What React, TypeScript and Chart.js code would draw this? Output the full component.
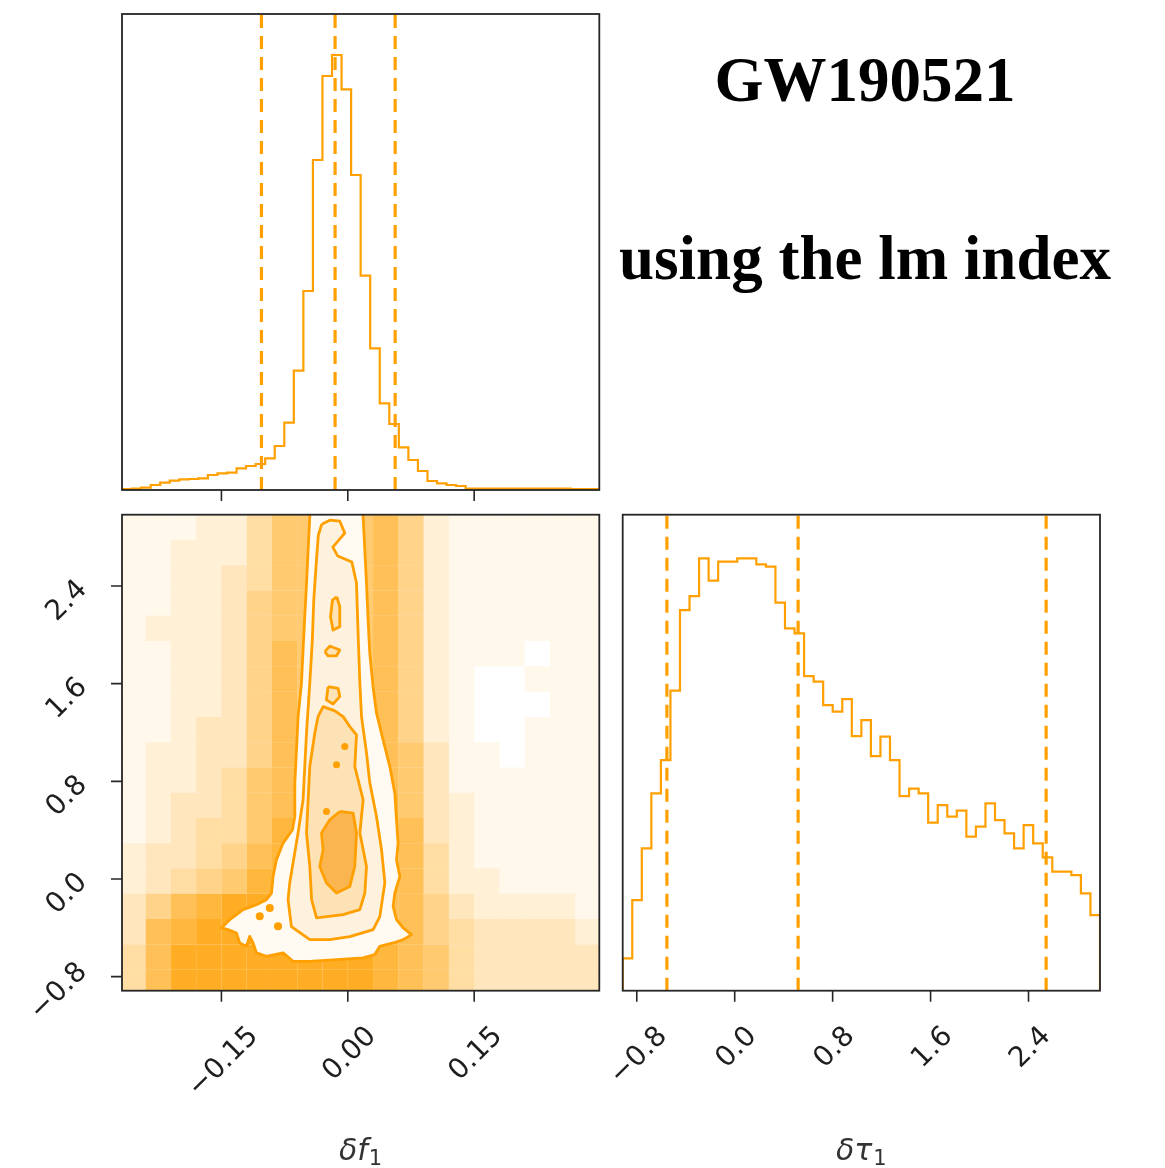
import React, { useEffect, useRef } from 'react';
import { Chart, registerables } from 'chart.js';

Chart.register(...registerables);

// ---------------- data ----------------
const F_RANGE = [-0.268, 0.2985]; // δf1 axis limits
const T_RANGE = [-0.915, 2.984]; // δτ1 axis limits
const F_TICKS = [-0.15, 0, 0.15];
const F_TICK_LABELS = ['−0.15', '0.00', '0.15'];
const T_TICKS = [-0.8, 0, 0.8, 1.6, 2.4];
const T_TICK_LABELS = ['−0.8', '0.0', '0.8', '1.6', '2.4'];

// 50-bin histogram of δf1 (counts, arbitrary units)
const F_HIST = [
  3, 4, 7, 15, 22, 28, 32, 33, 35, 45,
  50, 52, 65, 72, 78, 95, 132, 202, 358, 597,
  990, 1242, 1305, 1202, 945, 643, 425, 260, 198, 128,
  90, 57, 27, 20, 15, 12, 4, 4, 4, 4,
  4, 4, 4, 4, 4, 4, 4, 3, 3, 3,
];
// 50-bin histogram of δτ1
const T_HIST = [
  97, 272, 427, 592, 692, 900, 1142, 1184, 1297, 1230,
  1287, 1287, 1297, 1297, 1279, 1272, 1164, 1087, 1072, 944,
  927, 857, 837, 875, 764, 812, 704, 762, 692, 584,
  606, 592, 504, 557, 522, 540, 462, 492, 562, 512,
  472, 427, 497, 442, 400, 357, 357, 347, 292, 227,
];
const HIST_YMAX = 1428;
const F_QUANTILES = [-0.1025, -0.0151, 0.0562];
const T_QUANTILES = [-0.554, 0.518, 2.544];

// density of the scatter cloud, rows top -> bottom, columns left -> right (0-9)
const DENSITY_X0 = -0.27;
const CELL_DX = 0.03;
const DENSITY_ROWS = [
  '1112246666752111111',
  '1122246666752111111',
  '1122346666752111111',
  '1122356666752111111',
  '1222356666752111111',
  '1122357666752111011',
  '1122357666752100111',
  '1122357666752100011',
  '1123357666752100111',
  '1223357666763110111',
  '1223467666763111111',
  '1233467666863211111',
  '1234468666873211111',
  '2334578666874211111',
  '2345688666874221111',
  '3578999866775322221',
  '3789999977875433332',
  '4799999999876433333',
  '4799999999876433333',
];
const DENSITY_ALPHAS = [0, 0.08, 0.16, 0.26, 0.36, 0.46, 0.56, 0.66, 0.76, 0.86];

// contours (δf1, δτ1), outermost first
const CONTOUR_OUTER = [
  [-0.0451, 3.3],
  [-0.0451, 2.966], [-0.0471, 2.694], [-0.049, 2.421], [-0.0511, 2.148], [-0.0531, 1.876],
  [-0.055, 1.603], [-0.059, 1.33], [-0.0609, 1.058], [-0.0629, 0.785], [-0.0629, 0.512],
  [-0.0657, 0.403], [-0.0768, 0.294], [-0.0847, 0.158], [-0.0887, 0.021], [-0.0906, -0.115],
  [-0.0966, -0.169], [-0.1084, -0.21], [-0.1243, -0.251], [-0.1401, -0.333], [-0.15, -0.401],
  [-0.1422, -0.415], [-0.1322, -0.442], [-0.1283, -0.524], [-0.1203, -0.551], [-0.1164, -0.47],
  [-0.1125, -0.524], [-0.1084, -0.605], [-0.0966, -0.633], [-0.0768, -0.605], [-0.065, -0.674],
  [-0.0451, -0.674], [-0.0134, -0.66], [0.0182, -0.646], [0.0321, -0.619], [0.038, -0.551],
  [0.0538, -0.524], [0.0657, -0.497], [0.0757, -0.456], [0.0657, -0.401], [0.0578, -0.333],
  [0.0538, -0.224], [0.0558, -0.115], [0.0618, 0.021], [0.0578, 0.158], [0.0597, 0.294],
  [0.0578, 0.485], [0.0558, 0.703], [0.0499, 0.921], [0.0419, 1.139], [0.0341, 1.358],
  [0.03, 1.575], [0.0261, 1.849], [0.0241, 2.121], [0.0222, 2.421], [0.0202, 2.694],
  [0.0182, 2.966], [0.0182, 3.3],
];
const CONTOUR_15 = [
  [-0.0309, 2.906], [-0.0214, 2.939], [-0.0095, 2.931], [-0.0036, 2.833], [-0.0178, 2.718],
  [-0.0119, 2.645], [0.0048, 2.596], [0.0103, 2.424], [0.0122, 2.015], [0.0143, 1.606],
  [0.0163, 1.328], [0.0222, 1.033], [0.0261, 0.788], [0.0341, 0.51], [0.04, 0.24],
  [0.044, -0.03], [0.038, -0.308], [0.0301, -0.415], [0.0024, -0.472], [-0.0214, -0.497],
  [-0.0451, -0.497], [-0.0669, -0.39], [-0.0709, -0.169], [-0.0689, -0.03], [-0.059, 0.379],
  [-0.0531, 0.649], [-0.0511, 0.919], [-0.049, 1.197], [-0.0451, 1.606], [-0.0421, 1.957],
  [-0.0404, 2.285], [-0.0372, 2.612], [-0.035, 2.816],
];
const CONTOUR_10 = [
  [-0.0353, 1.33], [-0.0293, 1.412], [-0.0154, 1.377], [-0.0055, 1.33], [0.0024, 1.248],
  [0.0103, 1.18], [0.0083, 0.921], [0.0182, 0.649], [0.0143, 0.376], [0.0222, 0.103],
  [0.0202, -0.115], [0.0143, -0.251], [-0.0055, -0.292], [-0.0371, -0.319], [-0.043, -0.169],
  [-0.0451, 0.103], [-0.049, 0.376], [-0.0471, 0.649], [-0.0451, 0.921], [-0.0392, 1.194],
];
const CONTOUR_05 = [
  [-0.0095, 0.553], [0.0063, 0.54], [0.0103, 0.376], [0.0083, 0.103], [0.0024, -0.061],
  [-0.0134, -0.115], [-0.0253, -0.033], [-0.0333, 0.103], [-0.0293, 0.24], [-0.0312, 0.376],
  [-0.0214, 0.485],
];
const ISLAND_A = [[-0.0131, 2.312], [-0.0095, 2.23], [-0.0095, 2.066], [-0.0175, 2.039], [-0.0205, 2.148], [-0.0182, 2.285]];
const ISLAND_B = [[-0.0273, 1.862], [-0.0214, 1.908], [-0.0095, 1.876], [-0.0134, 1.827], [-0.0234, 1.827]];
const ISLAND_C = [[-0.0234, 1.575], [-0.0115, 1.562], [-0.0095, 1.494], [-0.0175, 1.434], [-0.0254, 1.467]];
const INNER_DOTS = [[-0.0036, 1.085], [-0.0134, 0.935], [-0.0253, 0.553]];
const OUTER_DOTS = [[-0.1045, -0.306], [-0.0926, -0.237], [-0.0828, -0.388]];

// ---------------- styling / layout ----------------
const PAGE_W = 1165;
const PAGE_H = 1168;
const PANEL_TOP = { left: 122, top: 14, right: 599.3, bottom: 490 };
const PANEL_2D = { left: 122, top: 514.7, right: 599.3, bottom: 990.7 };
const PANEL_TAU = { left: 622.7, top: 514.7, right: 1100, bottom: 990.7 };

const ORANGE = '#ffa000';
const INK = '#262626';
const LABEL_INK = '#1e1e1e';
const TICK_LEN = 11;
const TICK_FONT_PX = 28;
const X_LABEL_GAP = 32;
const Y_LABEL_GAP = 34;
const Y_LABEL_DROP = 13;
const FILL_OUTER = '#fffaf2';
const FILL_15 = '#fef2df';
const FILL_10 = '#fde2b6';
const FILL_05 = '#fab550';

const W2D = PANEL_2D.right - PANEL_2D.left;
const H2D = PANEL_2D.bottom - PANEL_2D.top;
const PX_PER_X = W2D / (F_RANGE[1] - F_RANGE[0]);
const PX_PER_Y = H2D / (T_RANGE[1] - T_RANGE[0]);
const CELL_DY = (CELL_DX * PX_PER_X) / PX_PER_Y;
const CELL_RADIUS = (CELL_DX * PX_PER_X) / Math.SQRT2;

const padFor = (p: any) => ({ left: p.left, top: p.top, right: PAGE_W - p.right, bottom: PAGE_H - p.bottom });

const cornerAxes = {
  id: 'cornerAxes',
  afterDatasetsDraw(chart: any, _args: any, opts: any) {
    const { ctx, chartArea: a } = chart;
    const xs = chart.scales.x;
    const ys = chart.scales.y;
    ctx.save();
    ctx.strokeStyle = INK;
    ctx.lineWidth = 1.8;
    ctx.strokeRect(a.left, a.top, a.right - a.left, a.bottom - a.top);
    ctx.lineWidth = 1.6;
    ctx.beginPath();
    (opts.xTicks || []).forEach((v: number) => {
      const p = xs.getPixelForValue(v);
      ctx.moveTo(p, a.bottom);
      ctx.lineTo(p, a.bottom + TICK_LEN);
    });
    (opts.yTicks || []).forEach((v: number) => {
      const p = ys.getPixelForValue(v);
      ctx.moveTo(a.left, p);
      ctx.lineTo(a.left - TICK_LEN, p);
    });
    ctx.stroke();
    ctx.fillStyle = LABEL_INK;
    ctx.font = `${TICK_FONT_PX}px "DejaVu Sans"`;
    ctx.textAlign = 'center';
    ctx.textBaseline = 'alphabetic';
    const h = TICK_FONT_PX * 0.73;
    const drawRot = (t: string, cx: number, cy: number) => {
      ctx.save();
      ctx.translate(cx, cy);
      ctx.rotate(-Math.PI / 4);
      ctx.fillText(t, 0, h / 2);
      ctx.restore();
    };
    if (opts.xLabels) {
      opts.xTicks.forEach((v: number, i: number) => {
        const t = opts.xLabels[i];
        const ext = (ctx.measureText(t).width + h) / Math.SQRT2;
        drawRot(t, xs.getPixelForValue(v), a.bottom + X_LABEL_GAP + ext / 2);
      });
    }
    if (opts.yLabels) {
      opts.yTicks.forEach((v: number, i: number) => {
        const t = opts.yLabels[i];
        const ext = (ctx.measureText(t).width + h) / Math.SQRT2;
        drawRot(t, a.left - Y_LABEL_GAP - ext / 2, ys.getPixelForValue(v) + Y_LABEL_DROP);
      });
    }
    ctx.restore();
  },
};

const histDataset = (counts: number[], range: number[]) => {
  const n = counts.length;
  const w = (range[1] - range[0]) / n;
  const pts = [{ x: range[0], y: 0 }];
  counts.forEach((c, i) => pts.push({ x: range[0] + i * w, y: c }));
  pts.push({ x: range[1], y: 0 });
  return {
    data: pts, showLine: true, stepped: 'before', borderColor: ORANGE, borderWidth: 2.2,
    pointRadius: 0, fill: false, clip: 0, order: 2,
  };
};

const quantileDatasets = (qs: number[]) =>
  qs.map((q) => ({
    data: [{ x: q, y: 0 }, { x: q, y: HIST_YMAX }], showLine: true, borderColor: ORANGE,
    borderWidth: 3.2, borderDash: [13, 8], pointRadius: 0, fill: false, clip: 0, order: 1,
  }));

const ringDataset = (pts: number[][], fillColor: string, order: number, closed = true) => {
  const ring = closed ? pts.concat([pts[0]]) : pts;
  return {
    data: ring.map(([x, y]) => ({ x, y })), showLine: true, fill: 'shape',
    backgroundColor: fillColor, borderColor: ORANGE, borderWidth: 2.8, borderJoinStyle: 'round',
    pointRadius: 0, tension: 0, clip: 0, order,
  };
};

const dotDataset = (pts: number[][], r: number, order: number) => ({
  data: pts.map(([x, y]) => ({ x, y })), showLine: false, pointRadius: r,
  pointBackgroundColor: ORANGE, pointBorderWidth: 0, clip: 0, order,
});

const densityDataset = () => {
  const data: any[] = [];
  const colors: string[] = [];
  DENSITY_ROWS.forEach((row, k) => {
    row.split('').forEach((ch, c) => {
      const lvl = Number(ch);
      if (!lvl) return;
      data.push({ x: DENSITY_X0 + CELL_DX * (c + 0.5), y: T_RANGE[1] - CELL_DY * (k + 0.5) });
      colors.push(`rgba(255,160,0,${DENSITY_ALPHAS[lvl]})`);
    });
  });
  return {
    data, showLine: false, pointStyle: 'rect', pointRadius: CELL_RADIUS,
    pointBackgroundColor: colors, pointBorderWidth: 0, borderWidth: 0, clip: 0, order: 20,
  };
};

const makeConfig = (panel: any, xr: number[], yr: number[], datasets: any[], axes: any) => ({
  type: 'scatter',
  data: { datasets },
  options: {
    responsive: false,
    maintainAspectRatio: false,
    animation: false,
    events: [],
    layout: { padding: padFor(panel), autoPadding: false },
    scales: {
      x: { type: 'linear', min: xr[0], max: xr[1], display: false },
      y: { type: 'linear', min: yr[0], max: yr[1], display: false },
    },
    plugins: { legend: { display: false }, tooltip: { enabled: false }, cornerAxes: axes },
  },
  plugins: [cornerAxes],
});

const configs = [
  makeConfig(PANEL_TOP, F_RANGE, [0, HIST_YMAX],
    [histDataset(F_HIST, F_RANGE), ...quantileDatasets(F_QUANTILES)],
    { xTicks: F_TICKS }),
  makeConfig(PANEL_2D, F_RANGE, T_RANGE,
    [
      densityDataset(),
      ringDataset(CONTOUR_OUTER, FILL_OUTER, 15, false),
      ringDataset(CONTOUR_15, FILL_15, 14),
      ringDataset(CONTOUR_10, FILL_10, 13),
      ringDataset(ISLAND_A, FILL_10, 12),
      ringDataset(ISLAND_B, FILL_10, 12),
      ringDataset(ISLAND_C, FILL_10, 12),
      ringDataset(CONTOUR_05, FILL_05, 11),
      dotDataset(INNER_DOTS, 3.5, 10),
      dotDataset(OUTER_DOTS, 4, 10),
    ],
    { xTicks: F_TICKS, xLabels: F_TICK_LABELS, yTicks: T_TICKS, yLabels: T_TICK_LABELS }),
  makeConfig(PANEL_TAU, T_RANGE, [0, HIST_YMAX],
    [histDataset(T_HIST, T_RANGE), ...quantileDatasets(T_QUANTILES)],
    { xTicks: T_TICKS, xLabels: T_TICK_LABELS }),
];

function Panel({ config }: { config: any }) {
  const ref = useRef<HTMLCanvasElement | null>(null);
  useEffect(() => {
    if (!ref.current) return;
    const chart = new Chart(ref.current, config);
    return () => chart.destroy();
  }, [config]);
  return (
    <canvas
      ref={ref}
      width={PAGE_W}
      height={PAGE_H}
      style={{ position: 'absolute', left: 0, top: 0, width: PAGE_W, height: PAGE_H }}
    />
  );
}

const titleStyle: React.CSSProperties = {
  position: 'absolute', left: 565, width: 600, textAlign: 'center',
  fontFamily: '"Liberation Serif", "Times New Roman", serif', fontWeight: 'bold',
  fontSize: 63, lineHeight: '63px', color: '#000', whiteSpace: 'nowrap',
};
const axisLabelStyle: React.CSSProperties = {
  position: 'absolute', width: 200, textAlign: 'center', fontFamily: '"DejaVu Sans", sans-serif',
  fontStyle: 'italic', fontSize: 30, lineHeight: '30px', color: '#333', whiteSpace: 'nowrap',
};
const subStyle: React.CSSProperties = {
  fontStyle: 'normal', fontSize: '0.7em', position: 'relative', top: '0.25em', marginLeft: 1,
};

export default function App() {
  return (
    <div style={{ position: 'absolute', left: 0, top: 0, width: PAGE_W, height: PAGE_H, background: '#fff', overflow: 'hidden' }}>
      {configs.map((c, i) => <Panel key={i} config={c} />)}
      <div style={{ ...titleStyle, top: 49 }}>GW190521</div>
      <div style={{ ...titleStyle, top: 227 }}>using the lm index</div>
      <div style={{ ...axisLabelStyle, left: 260.6, top: 1134.6 }}>δf<span style={subStyle}>1</span></div>
      <div style={{ ...axisLabelStyle, left: 761.3, top: 1134.6 }}>δτ<span style={subStyle}>1</span></div>
    </div>
  );
}
